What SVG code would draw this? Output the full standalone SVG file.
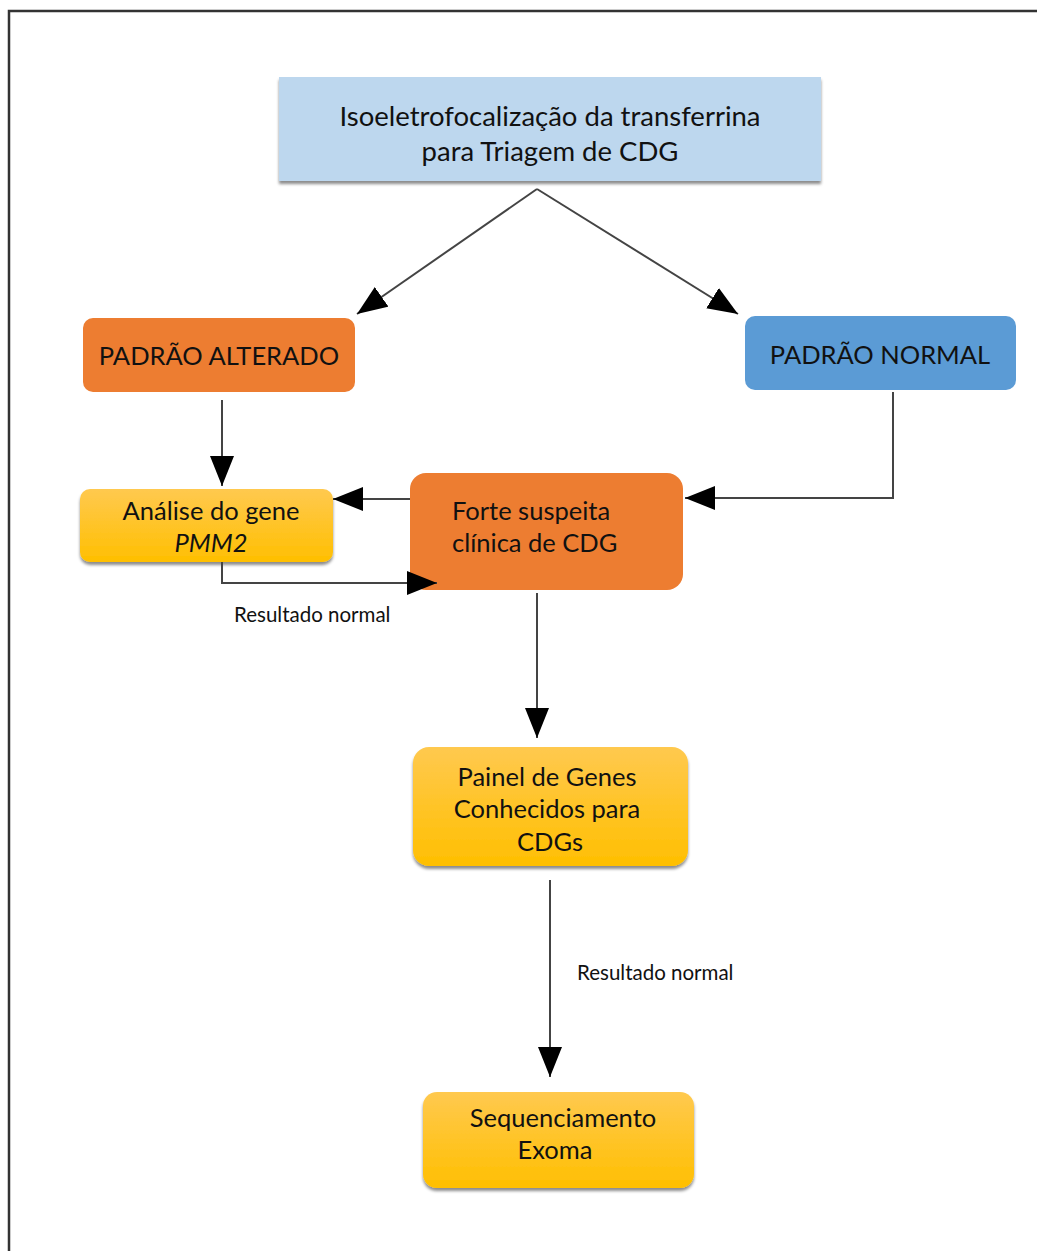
<svg xmlns="http://www.w3.org/2000/svg" width="1037" height="1251" viewBox="0 0 1037 1251">
<style>
.t{font-family:Lato,"Open Sans","Liberation Sans",sans-serif;font-size:25.5px;fill:#111;}
.h{font-size:27.5px;}
.s{font-family:Lato,"Open Sans","Liberation Sans",sans-serif;font-size:20.5px;fill:#111;}
.ln{fill:none;stroke:#444;stroke-width:2;}
</style>
<defs>
<linearGradient id="yel" x1="0" y1="0" x2="0" y2="1">
<stop offset="0" stop-color="#FFC94F"/>
<stop offset="1" stop-color="#FFBF00"/>
</linearGradient>
<filter id="sh" x="-5%" y="-10%" width="110%" height="130%">
<feDropShadow dx="0" dy="3" stdDeviation="1.5" flood-color="#000" flood-opacity="0.45"/>
</filter>
<marker id="ah" viewBox="0 0 30 24" refX="30" refY="12" markerWidth="30" markerHeight="24" markerUnits="userSpaceOnUse" orient="auto">
<path d="M0,0 L30,12 L0,24 Z" fill="#000"/>
</marker>
</defs>
<rect x="9" y="11" width="1040" height="1250" fill="#fff" stroke="#333" stroke-width="2.5"/>
<g id="n1">
<rect x="279" y="77" width="542" height="104" fill="#BDD7EE" filter="url(#sh)"/>
<text class="t h" x="550" y="126" text-anchor="middle">Isoeletrofocalização da transferrina</text>
<text class="t h" x="550" y="161" text-anchor="middle">para Triagem de CDG</text>
</g>
<g id="n2">
<rect x="83" y="318" width="272" height="74" rx="10" fill="#ED7D31"/>
<text class="t" x="219" y="365" text-anchor="middle">PADRÃO ALTERADO</text>
</g>
<g id="n3">
<rect x="745" y="316" width="271" height="74" rx="10" fill="#5B9BD5"/>
<text class="t" x="880" y="364" text-anchor="middle">PADRÃO NORMAL</text>
</g>
<g id="n4">
<rect x="80" y="489" width="253" height="73" rx="10" fill="url(#yel)" filter="url(#sh)"/>
<text class="t" x="211" y="520" text-anchor="middle">Análise do gene</text>
<text class="t" x="211" y="552" text-anchor="middle" font-style="italic">PMM2</text>
</g>
<g id="n5">
<rect x="410" y="473" width="273" height="117" rx="16" fill="#ED7D31"/>
<text class="t" x="452" y="520">Forte suspeita</text>
<text class="t" x="452" y="552">clínica de CDG</text>
</g>
<g id="n6">
<rect x="413" y="747" width="275" height="119" rx="16" fill="url(#yel)" filter="url(#sh)"/>
<text class="t" x="547" y="786" text-anchor="middle">Painel de Genes</text>
<text class="t" x="547" y="818" text-anchor="middle">Conhecidos para</text>
<text class="t" x="550" y="851" text-anchor="middle">CDGs</text>
</g>
<g id="n7">
<rect x="423" y="1092" width="271" height="96" rx="14" fill="url(#yel)" filter="url(#sh)"/>
<text class="t" x="563" y="1127" text-anchor="middle">Sequenciamento</text>
<text class="t" x="555" y="1159" text-anchor="middle">Exoma</text>
</g>
<g id="connectors">
<path class="ln" d="M537,189 L357,314" marker-end="url(#ah)"/>
<path class="ln" d="M537,189 L738,314" marker-end="url(#ah)"/>
<path class="ln" d="M222,400 L222,486" marker-end="url(#ah)"/>
<path class="ln" d="M410,499 L333,499" marker-end="url(#ah)"/>
<path class="ln" d="M893,392 L893,498 L685,498" marker-end="url(#ah)"/>
<path class="ln" d="M222,562 L222,583 L437,583" marker-end="url(#ah)"/>
<path class="ln" d="M537,593 L537,738" marker-end="url(#ah)"/>
<path class="ln" d="M550,880 L550,1077" marker-end="url(#ah)"/>
<text class="s" x="234" y="622">Resultado normal</text>
<text class="s" x="577" y="980">Resultado normal</text>
</g>
</svg>
